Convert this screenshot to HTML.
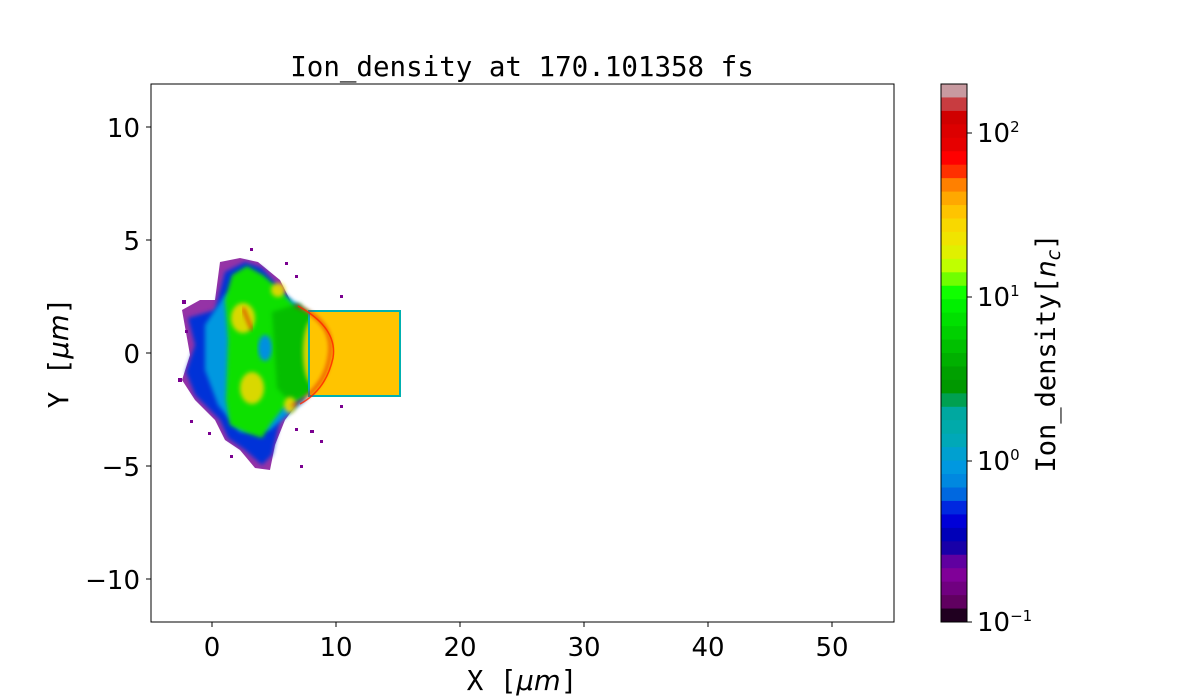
<!DOCTYPE html>
<html><head><meta charset="utf-8"><style>
body{margin:0;background:#fff;}
svg{display:block;}
.t{font-family:"DejaVu Sans","Liberation Sans",sans-serif;font-size:26px;fill:#000;}
.m{font-family:"DejaVu Sans Mono","Liberation Mono",monospace;fill:#000;}
</style></head><body>
<svg width="1200" height="700" viewBox="0 0 1200 700" xmlns="http://www.w3.org/2000/svg">
<rect width="1200" height="700" fill="#fff"/>
<text x="522" y="76" class="m" font-size="27.5" text-anchor="middle">Ion_density at 170.101358 fs</text>
<defs><clipPath id="c"><rect x="151" y="84" width="743" height="538"/></clipPath>
<filter id="b"><feGaussianBlur stdDeviation="2"/></filter></defs>
<g clip-path="url(#c)">
<g fill="#7a0090">
<path d="M182,310 L200,300 L215,300 L220,262 L240,258 L258,262 L280,280 L290,300 L300,400 L285,420 L275,445 L270,470 L255,468 L240,450 L225,440 L215,420 L195,400 L182,380 L190,355 Z" opacity="0.8"/>
<rect x="182" y="300" width="4" height="4"/><rect x="178" y="378" width="4" height="4"/><rect x="190" y="420" width="3" height="3"/>
<rect x="285" y="262" width="3" height="3"/><rect x="295" y="275" width="3" height="3"/><rect x="340" y="295" width="3" height="3"/>
<rect x="295" y="428" width="3" height="3"/><rect x="310" y="430" width="4" height="3"/><rect x="320" y="440" width="3" height="3"/>
<rect x="300" y="465" width="3" height="3"/><rect x="250" y="248" width="3" height="3"/><rect x="340" y="405" width="3" height="3"/>
<rect x="208" y="432" width="3" height="3"/><rect x="230" y="455" width="3" height="3"/><rect x="185" y="330" width="3" height="3"/>
</g>
<path d="M188,318 L215,310 L225,272 L245,262 L262,268 L290,300 L300,400 L280,420 L272,455 L262,465 L245,450 L228,438 L220,420 L195,395 L186,372 L195,345 Z" fill="#0030d8" filter="url(#b)"/>
<path d="M205,325 L225,295 L258,280 L300,305 L305,400 L270,430 L240,432 L218,405 L205,370 Z" fill="#0098e0" filter="url(#b)"/>
<path d="M225,300 L232,275 L247,266 L263,275 L280,290 L293,305 L310,312 L328,353 L313,392 L283,408 L270,425 L262,438 L247,433 L230,425 L226,400 L228,340 Z" fill="#10e000" filter="url(#b)"/>
<path d="M272,312 L300,303 L322,330 L326,355 L318,388 L290,402 L277,388 Z" fill="#00a800" opacity="0.6" filter="url(#b)"/>
<g fill="#f0d800" filter="url(#b)" opacity="0.9">
<ellipse cx="243" cy="318" rx="12" ry="15"/><ellipse cx="252" cy="388" rx="12" ry="16"/><ellipse cx="312" cy="352" rx="9" ry="32"/>
<ellipse cx="278" cy="290" rx="7" ry="7"/><ellipse cx="290" cy="405" rx="6" ry="8"/></g>
<ellipse cx="265" cy="348" rx="7" ry="13" fill="#0090e0" filter="url(#b)"/>
<rect x="308" y="310" width="93" height="87" fill="#00b0b0"/>
<rect x="310" y="312" width="89" height="83" fill="#ffc400"/>
<path d="M295,305 Q335,322 330,355 Q326,388 292,406" fill="none" stroke="#e00000" stroke-width="2.5" opacity="0.8" filter="url(#b)"/>
<path d="M298,306 Q338,328 333,358 Q326,390 300,404" fill="none" stroke="#ff2000" stroke-width="1.5" opacity="0.8"/>
<path d="M243,308 L252,330" stroke="#e00000" stroke-width="2.5" opacity="0.8" filter="url(#b)"/>
</g>
<rect x="151" y="84" width="743" height="538" fill="none" stroke="#000" stroke-width="1"/>
<g stroke="#000"><line x1="212" y1="622" x2="212" y2="627"/><line x1="336" y1="622" x2="336" y2="627"/><line x1="460" y1="622" x2="460" y2="627"/><line x1="584" y1="622" x2="584" y2="627"/><line x1="708" y1="622" x2="708" y2="627"/><line x1="832" y1="622" x2="832" y2="627"/>
<line x1="146" y1="127" x2="151" y2="127"/><line x1="146" y1="240" x2="151" y2="240"/><line x1="146" y1="353" x2="151" y2="353"/><line x1="146" y1="466" x2="151" y2="466"/><line x1="146" y1="579" x2="151" y2="579"/></g>
<g class="t" text-anchor="middle"><text x="212" y="656">0</text><text x="336" y="656">10</text><text x="460" y="656">20</text><text x="584" y="656">30</text><text x="708" y="656">40</text><text x="832" y="656">50</text></g>
<g class="t" text-anchor="end"><text x="140" y="137">10</text><text x="140" y="250">5</text><text x="140" y="363">0</text><text x="140" y="476">−5</text><text x="140" y="589">−10</text></g>
<text x="522" y="690" class="m" font-size="27.5" text-anchor="middle">X [<tspan font-style="italic" font-family="DejaVu Sans">μm</tspan>]</text>
<text transform="translate(68,353) rotate(-90)" class="m" font-size="27.5" text-anchor="middle">Y [<tspan font-style="italic" font-family="DejaVu Sans">μm</tspan>]</text>
<g>
<rect x="941" y="84.00" width="26" height="14.1" fill="#c89aa0"/>
<rect x="941" y="97.45" width="26" height="14.1" fill="#c83c40"/>
<rect x="941" y="110.90" width="26" height="14.1" fill="#d00000"/>
<rect x="941" y="124.35" width="26" height="14.1" fill="#dc0000"/>
<rect x="941" y="137.80" width="26" height="14.1" fill="#e60000"/>
<rect x="941" y="151.25" width="26" height="14.1" fill="#ff0000"/>
<rect x="941" y="164.70" width="26" height="14.1" fill="#ff3000"/>
<rect x="941" y="178.15" width="26" height="14.1" fill="#ff8000"/>
<rect x="941" y="191.60" width="26" height="14.1" fill="#ffa800"/>
<rect x="941" y="205.05" width="26" height="14.1" fill="#ffc400"/>
<rect x="941" y="218.50" width="26" height="14.1" fill="#f8d800"/>
<rect x="941" y="231.95" width="26" height="14.1" fill="#f0e400"/>
<rect x="941" y="245.40" width="26" height="14.1" fill="#e0f000"/>
<rect x="941" y="258.85" width="26" height="14.1" fill="#c0ff00"/>
<rect x="941" y="272.30" width="26" height="14.1" fill="#70ff00"/>
<rect x="941" y="285.75" width="26" height="14.1" fill="#10ff00"/>
<rect x="941" y="299.20" width="26" height="14.1" fill="#00f000"/>
<rect x="941" y="312.65" width="26" height="14.1" fill="#00e000"/>
<rect x="941" y="326.10" width="26" height="14.1" fill="#00d000"/>
<rect x="941" y="339.55" width="26" height="14.1" fill="#00c000"/>
<rect x="941" y="353.00" width="26" height="14.1" fill="#00b000"/>
<rect x="941" y="366.45" width="26" height="14.1" fill="#00a000"/>
<rect x="941" y="379.90" width="26" height="14.1" fill="#009800"/>
<rect x="941" y="393.35" width="26" height="14.1" fill="#00a050"/>
<rect x="941" y="406.80" width="26" height="14.1" fill="#00a8a0"/>
<rect x="941" y="420.25" width="26" height="14.1" fill="#00aaaa"/>
<rect x="941" y="433.70" width="26" height="14.1" fill="#00a8b8"/>
<rect x="941" y="447.15" width="26" height="14.1" fill="#00a0d0"/>
<rect x="941" y="460.60" width="26" height="14.1" fill="#0098e0"/>
<rect x="941" y="474.05" width="26" height="14.1" fill="#0088e0"/>
<rect x="941" y="487.50" width="26" height="14.1" fill="#0068e0"/>
<rect x="941" y="500.95" width="26" height="14.1" fill="#0028e0"/>
<rect x="941" y="514.40" width="26" height="14.1" fill="#0000d8"/>
<rect x="941" y="527.85" width="26" height="14.1" fill="#0000b8"/>
<rect x="941" y="541.30" width="26" height="14.1" fill="#1800a8"/>
<rect x="941" y="554.75" width="26" height="14.1" fill="#6000a0"/>
<rect x="941" y="568.20" width="26" height="14.1" fill="#800098"/>
<rect x="941" y="581.65" width="26" height="14.1" fill="#700080"/>
<rect x="941" y="595.10" width="26" height="14.1" fill="#600060"/>
<rect x="941" y="608.55" width="26" height="13.45" fill="#200020"/>
</g>
<rect x="941" y="84" width="26" height="538" fill="none" stroke="#000"/>
<g stroke="#000"><line x1="967" y1="133" x2="972" y2="133"/><line x1="967" y1="297" x2="972" y2="297"/><line x1="967" y1="461" x2="972" y2="461"/><line x1="967" y1="622" x2="972" y2="622"/></g>
<g class="t" font-size="21"><text x="977" y="142">10<tspan dy="-10" font-size="15">2</tspan></text><text x="977" y="306">10<tspan dy="-10" font-size="15">1</tspan></text><text x="977" y="470">10<tspan dy="-10" font-size="15">0</tspan></text><text x="977" y="631">10<tspan dy="-10" font-size="15">−1</tspan></text></g>
<text transform="translate(1055,353) rotate(-90)" class="m" font-size="27" text-anchor="middle">Ion_density[<tspan font-style="italic" font-family="DejaVu Sans">n</tspan><tspan font-style="italic" font-family="DejaVu Sans" font-size="19" dy="5">c</tspan><tspan dy="-5">]</tspan></text>
</svg>
</body></html>
